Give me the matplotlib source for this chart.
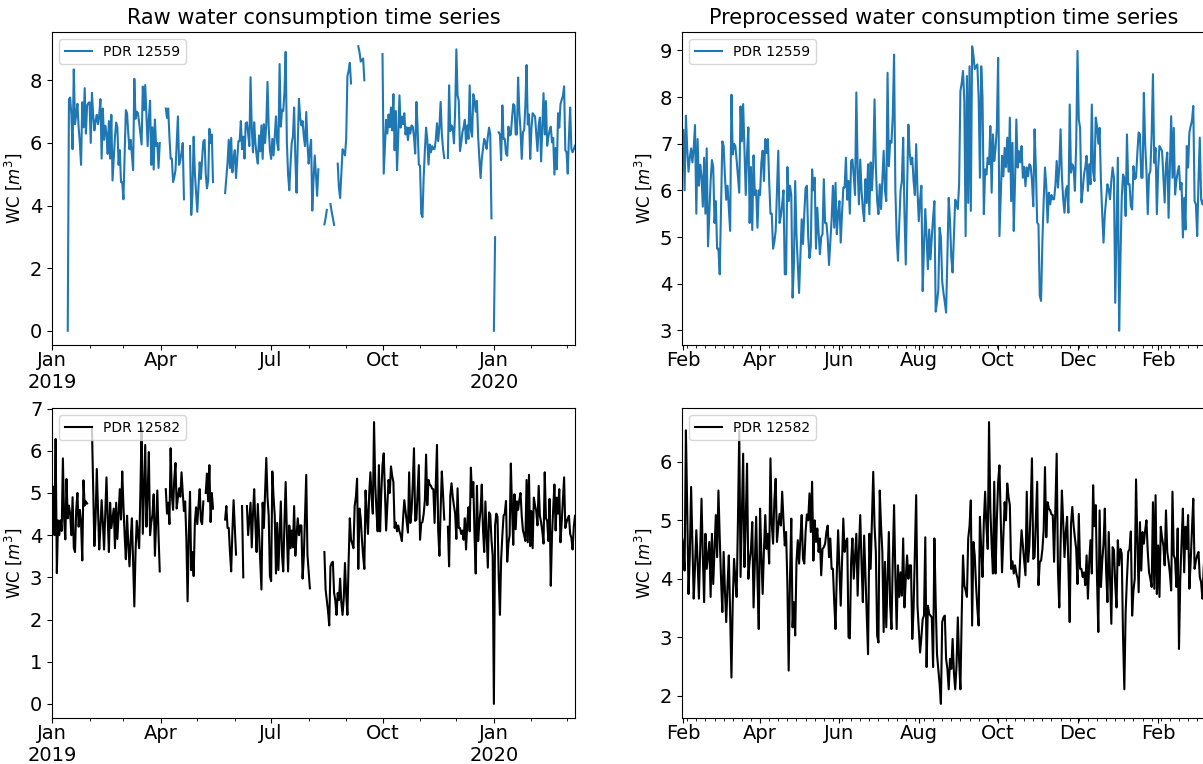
import numpy as np
import pandas as pd
import matplotlib
matplotlib.use("Agg")
import matplotlib.pyplot as plt
import matplotlib.dates as mdates
from matplotlib.ticker import MultipleLocator, FuncFormatter

# ---- data -----------------------------------------------------------------
METERS = ["PDR 12559", "PDR 12582"]
COLORS = ["#1f77b4", "black"]

RAW_START = "2019-01-01"
PRE_START = "2019-01-31"
END = "2020-03-08"

# preprocessed daily consumption [m3], 2019-01-31 .. 2020-03-08
PRE_12559 = [
    7.27, 7.3, 6.0, 7.6, 6.9, 6.4, 6.7, 6.9, 6.6, 6.9,
    7.4, 5.5, 7.1, 6.1, 6.55, 6.3, 5.65, 6.7, 5.5, 6.9,
    4.8, 5.5, 6.2, 6.65, 6.5, 5.3, 5.77, 4.75, 4.75, 4.2,
    5.6, 7.05, 6.95, 6.3, 5.8, 6.1, 5.6, 5.13, 8.05, 6.77,
    7.0, 6.95, 6.65, 6.3, 5.95, 7.8, 7.05, 7.85, 6.9, 5.9,
    6.8, 7.35, 5.3, 6.5, 5.15, 6.75, 5.9, 6.0, 5.2, 6.0,
    5.9, 6.6, 6.85, 6.2, 7.1, 6.8, 7.1, 6.2, 5.5, 5.5,
    4.75, 4.9, 5.13, 6.0, 6.85, 5.3, 5.45, 5.7, 6.0, 4.2,
    4.2, 6.5, 5.77, 6.1, 5.9, 3.7, 4.38, 6.2, 5.05, 4.4,
    3.8, 4.6, 5.38, 4.85, 5.5, 6.05, 6.1, 5.0, 4.55, 4.8,
    6.45, 6.0, 6.27, 4.75, 5.63, 5.1, 4.63, 5.0, 5.06, 6.24,
    5.3, 5.3, 4.98, 4.4, 4.9, 5.38, 6.1, 5.2, 6.16, 5.06,
    5.5, 5.77, 4.88, 5.5, 6.06, 6.06, 6.7, 5.8, 6.2, 5.5,
    6.63, 6.66, 6.3, 5.9, 8.1, 6.5, 5.7, 6.66, 6.0, 5.6,
    5.34, 6.24, 5.73, 6.56, 5.49, 6.6, 6.0, 6.6, 7.95, 6.5,
    5.77, 5.49, 6.13, 5.6, 6.2, 6.85, 6.0, 5.77, 8.52, 6.52,
    7.06, 7.02, 7.6, 8.91, 6.02, 5.0, 4.49, 5.3, 6.0, 6.2,
    7.13, 5.5, 4.41, 6.0, 7.41, 6.8, 6.56, 6.7, 6.2, 5.9,
    6.99, 6.0, 5.34, 5.8, 6.1, 3.84, 4.8, 5.6, 5.0, 4.31,
    5.16, 4.52, 5.0, 5.41, 5.77, 3.4, 3.6, 3.86, 5.2, 5.0,
    4.05, 3.8, 3.6, 3.38, 4.6, 5.84, 5.34, 4.56, 4.24, 5.0,
    5.8, 5.73, 5.6, 6.13, 8.13, 8.3, 8.56, 7.9, 5.02, 8.45,
    5.73, 8.66, 5.56, 9.09, 8.9, 8.6, 8.65, 8.7, 8.0, 6.27,
    8.66, 7.99, 5.49, 6.45, 6.34, 6.7, 6.56, 7.38, 5.95, 7.2,
    6.63, 6.9, 7.34, 8.84, 5.02, 5.9, 6.74, 6.3, 6.91, 6.5,
    7.13, 6.4, 7.56, 5.77, 7.02, 5.13, 6.2, 7.52, 6.49, 6.84,
    6.6, 6.95, 6.27, 6.5, 6.09, 6.49, 6.3, 6.56, 6.52, 6.2,
    5.66, 7.31, 6.49, 5.31, 5.27, 3.74, 3.63, 4.9, 5.77, 6.49,
    6.1, 5.31, 5.95, 5.7, 5.9, 5.81, 5.81, 6.1, 6.63, 6.06,
    6.5, 7.31, 6.3, 5.81, 5.52, 6.0, 6.09, 5.52, 7.84, 6.38,
    6.56, 6.49, 5.99, 7.0, 8.99, 7.52, 7.34, 5.74, 6.0, 6.34,
    6.5, 6.74, 5.99, 6.56, 6.13, 7.84, 6.41, 6.2, 7.56, 7.38,
    7.0, 7.34, 6.2, 5.5, 4.88, 5.49, 5.8, 6.13, 6.02, 5.81,
    6.2, 6.49, 6.27, 3.59, 5.2, 6.7, 2.99, 4.5, 5.84, 6.34,
    6.27, 5.45, 7.2, 6.13, 6.13, 5.66, 5.59, 6.52, 6.24, 6.27,
    6.8, 7.24, 7.2, 6.27, 6.27, 8.09, 7.0, 6.41, 5.49, 6.34,
    6.41, 7.2, 8.49, 6.59, 6.91, 5.49, 6.45, 6.95, 6.9, 6.84,
    6.3, 5.74, 6.56, 6.81, 5.41, 6.5, 7.59, 6.27, 7.34, 5.91,
    6.2, 6.4, 6.52, 6.02, 6.16, 4.99, 5.84, 5.16, 6.95, 6.49,
    7.24, 7.38, 7.5, 7.81, 5.77, 5.7, 5.02, 6.2, 7.13, 5.81,
    5.7, 5.8, 5.91,
]

PRE_12582 = [
    4.71, 4.57, 4.14, 6.54, 5.2, 3.74, 4.4, 5.57, 4.6, 3.66,
    4.2, 4.83, 4.3, 3.66, 4.5, 5.37, 4.4, 3.6, 4.77, 4.17,
    4.4, 4.63, 3.69, 4.77, 3.91, 4.5, 5.09, 4.37, 5.51, 4.71,
    4.0, 3.43, 4.46, 3.8, 3.26, 3.9, 4.4, 3.4, 2.31, 3.6,
    4.34, 4.0, 3.69, 5.0, 6.54, 4.03, 5.1, 6.14, 4.2, 5.0,
    5.97, 4.0, 4.3, 4.49, 4.97, 3.51, 4.3, 5.06, 4.0, 3.14,
    5.2, 4.4, 3.74, 4.5, 5.09, 4.51, 4.77, 4.26, 6.06, 4.94,
    4.6, 5.34, 5.71, 4.63, 4.9, 5.11, 4.91, 5.49, 5.0, 4.57,
    4.8, 3.9, 2.43, 4.0, 5.03, 3.17, 3.6, 3.03, 4.29, 4.66,
    4.26, 4.7, 5.09, 4.34, 4.26, 4.8, 5.1, 5.0, 5.46, 4.8,
    5.66, 4.31, 5.0, 4.63, 4.86, 4.46, 4.69, 4.06, 4.51, 4.54,
    4.6, 4.8, 4.91, 4.37, 4.69, 4.17, 4.17, 3.6, 3.14, 4.09,
    4.83, 4.2, 3.54, 4.3, 5.03, 4.46, 4.63, 4.69, 3.0, 2.98,
    4.3, 4.69, 4.0, 4.4, 4.77, 3.71, 4.5, 5.09, 4.26, 3.6,
    4.74, 4.06, 3.4, 2.71, 4.77, 4.17, 5.0, 5.83, 4.9, 4.46,
    3.03, 2.91, 5.51, 4.9, 4.46, 3.09, 4.29, 3.17, 4.0, 4.8,
    3.54, 3.14, 4.3, 5.26, 4.06, 3.14, 4.23, 3.69, 4.11, 3.71,
    4.69, 3.51, 4.0, 4.4, 4.0, 4.23, 4.23, 2.97, 3.49, 4.5,
    5.43, 3.54, 3.14, 2.74, 3.0, 3.31, 3.37, 4.71, 2.49, 3.54,
    3.4, 3.37, 3.34, 2.49, 4.69, 3.6, 2.71, 2.46, 2.2, 1.86,
    3.26, 3.34, 3.37, 2.63, 2.46, 2.11, 2.63, 2.46, 2.97, 2.4,
    2.11, 2.51, 3.34, 2.6, 2.11, 3.37, 4.4, 3.89, 3.8, 3.69,
    4.69, 4.9, 5.34, 3.2, 4.63, 4.4, 3.9, 3.5, 3.2, 5.06,
    4.5, 4.03, 4.97, 5.49, 4.9, 4.51, 6.68, 5.2, 4.57, 4.09,
    5.66, 4.09, 5.0, 5.66, 5.94, 5.0, 4.11, 4.71, 5.31, 5.0,
    5.63, 5.4, 5.26, 4.17, 4.3, 4.09, 4.23, 4.09, 4.0, 3.86,
    4.4, 4.83, 4.57, 4.3, 4.06, 5.49, 4.29, 4.57, 5.2, 6.06,
    4.34, 4.37, 5.0, 5.66, 3.89, 4.29, 4.31, 4.5, 4.83, 5.91,
    4.71, 5.31, 5.2, 5.17, 5.1, 5.09, 4.29, 5.2, 6.14, 4.11,
    3.51, 4.6, 5.51, 4.97, 4.37, 4.8, 5.06, 4.2, 3.26, 4.94,
    5.23, 4.91, 4.7, 4.51, 3.91, 5.11, 4.17, 4.17, 4.03, 4.11,
    3.89, 4.4, 3.66, 4.29, 4.66, 4.09, 5.6, 4.9, 5.26, 4.0,
    3.09, 5.17, 3.86, 4.3, 4.6, 5.2, 4.14, 3.6, 4.8, 4.0,
    3.23, 4.54, 4.49, 3.9, 3.51, 4.66, 4.23, 4.51, 4.43, 3.0,
    2.11, 3.43, 4.0, 4.46, 4.51, 4.81, 3.37, 3.8, 4.0, 5.7,
    4.63, 3.77, 4.97, 4.14, 4.8, 4.6, 4.83, 5.0, 4.46, 4.11,
    4.0, 3.86, 5.31, 3.83, 5.43, 3.74, 4.57, 3.69, 4.89, 4.7,
    4.57, 4.23, 5.17, 4.46, 4.3, 4.09, 3.8, 5.49, 4.4, 4.34,
    3.86, 4.86, 2.8, 4.0, 4.63, 5.2, 4.11, 4.89, 4.51, 5.09,
    3.83, 4.3, 4.86, 5.37, 4.17, 4.31, 4.4, 4.46, 4.03, 3.94,
    3.66, 4.2, 4.46,
]

# raw readings 2019-01-01 .. 2019-01-30 (before the preprocessed window)
nan = np.nan
RAW_HEAD_12559 = [nan] * 13 + [
    0.0, 7.4, 7.45, 6.9, 5.8, 8.35, 6.6, 6.9, 7.25, 6.5,
    6.0, 5.3, 7.3, 6.5, 7.75, 6.3, 7.2,
]
RAW_HEAD_12582 = [
    4.1, 5.15, 4.0, 6.28, 3.1, 4.35, 4.0, 4.35, 4.1, 5.82,
    4.4, 3.9, 5.33, 4.4, 4.7, 4.5, 4.0, 4.9, 3.7, 3.6,
    4.6, 5.0, 4.2, 4.6, 4.3, 3.4, 5.3, 4.7, 4.8, 4.75,
]

# missing days in the raw logs (inclusive ranges)
RAW_GAPS_12559 = [
    ("2019-04-01", "2019-04-04"), ("2019-04-21", "2019-04-24"),
    ("2019-05-15", "2019-05-23"), ("2019-08-10", "2019-08-13"),
    ("2019-08-17", "2019-08-18"), ("2019-08-23", "2019-08-24"),
    ("2019-09-06", "2019-09-10"), ("2019-09-17", "2019-09-30"),
    ("2019-11-22", "2019-11-23"), ("2019-12-31", "2019-12-31"),
    ("2020-01-03", "2020-01-04"),
]
RAW_GAPS_12582 = [
    ("2019-01-31", "2019-02-02"), ("2019-04-01", "2019-04-04"),
    ("2019-05-07", "2019-05-07"), ("2019-05-15", "2019-05-23"),
    ("2019-06-03", "2019-06-06"), ("2019-06-09", "2019-06-10"),
    ("2019-08-03", "2019-08-13"), ("2019-11-22", "2019-11-23"),
]
# zero readings in the raw logs
RAW_ZEROS_12559 = ["2020-01-01"]
RAW_ZEROS_12582 = ["2020-01-01"]


def build(pre, head, gaps, zeros):
    pre_s = pd.Series(pre, index=pd.date_range(PRE_START, END, freq="D"))
    raw = pd.Series(np.nan, index=pd.date_range(RAW_START, END, freq="D"))
    raw.iloc[:len(head)] = head
    raw.loc[pre_s.index] = pre_s.values
    for a, b in gaps:
        raw.loc[a:b] = np.nan
    for z in zeros:
        raw.loc[z] = 0.0
    return raw, pre_s


series = [build(PRE_12559, RAW_HEAD_12559, RAW_GAPS_12559, RAW_ZEROS_12559),
          build(PRE_12582, RAW_HEAD_12582, RAW_GAPS_12582, RAW_ZEROS_12582)]


def quarter_fmt(x, pos=None):
    d = mdates.num2date(x)
    return d.strftime("%b\n%Y") if d.month == 1 else d.strftime("%b")


# ---- figure ----------------------------------------------------------------
plt.rcParams.update({"font.family": "DejaVu Sans", "xtick.labelsize": 14,
                     "ytick.labelsize": 14})
fig = plt.figure(figsize=(12.03, 7.64), dpi=100)
W = 523 / 1203
pos = {(0, 0): [52 / 1203, 1 - 345 / 764, W, 313 / 764],
       (0, 1): [682 / 1203, 1 - 345 / 764, W, 313 / 764],
       (1, 0): [52 / 1203, 1 - 718 / 764, W, 310 / 764],
       (1, 1): [682 / 1203, 1 - 718 / 764, W, 310 / 764]}

for r, (name, color, (raw, pre)) in enumerate(zip(METERS, COLORS, series)):
    for c, s in enumerate([raw, pre]):
        ax = fig.add_axes(pos[(r, c)])
        ax.plot(s.index, s.values, color=color, lw=1.5, label=name)
        ax.set_xlim(s.index[0], s.index[-1])
        ax.margins(y=0.05)
        ax.set_ylabel("WC [$m^3$]", fontsize=12)
        ax.legend(loc="upper left", fontsize=10)
        if c == 0:
            ax.xaxis.set_major_locator(mdates.MonthLocator(bymonth=[1, 4, 7, 10]))
            ax.xaxis.set_minor_locator(mdates.MonthLocator())
            ax.xaxis.set_major_formatter(FuncFormatter(quarter_fmt))
        else:
            ax.xaxis.set_major_locator(mdates.MonthLocator(bymonth=[2, 4, 6, 8, 10, 12]))
            ax.xaxis.set_minor_locator(mdates.WeekdayLocator(byweekday=mdates.MO))
            ax.xaxis.set_major_formatter(mdates.DateFormatter("%b"))
        ax.xaxis.set_minor_formatter(plt.NullFormatter())
        ax.tick_params(axis="x", which="major", pad=1)
        for lab in ax.get_xticklabels():
            lab.set_rotation(0)
            lab.set_ha("center")
        ax.yaxis.set_major_locator(MultipleLocator(2 if (r, c) == (0, 0) else 1))
        if r == 0:
            ax.set_title(["Raw water consumption time series",
                          "Preprocessed water consumption time series"][c], fontsize=15)

fig.savefig("out.png", dpi=100)
